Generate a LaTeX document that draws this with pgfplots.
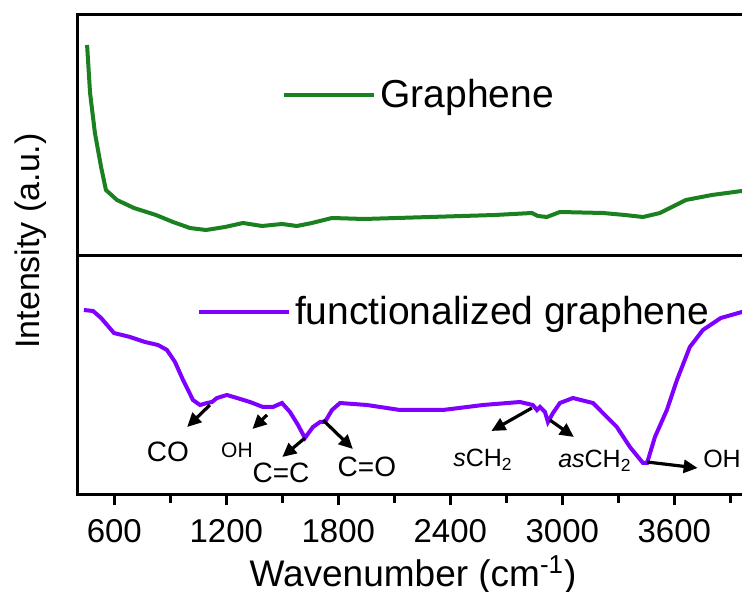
\documentclass[border=0pt]{standalone}
\usepackage{fontspec}
\setmainfont{Liberation Sans}
\usepackage{pgfplots}
\pgfplotsset{compat=1.18}
\usetikzlibrary{arrows.meta}
\definecolor{grgreen}{HTML}{1A8020}
\definecolor{fgpurple}{HTML}{8000FF}

\tikzset{arr/.style={line width=1.6pt, -{Triangle[length=7pt,width=6.5pt]}}}
\pgfplotsset{
  panel/.style={
    width=336pt, scale only axis, xmin=400, xmax=4000, ymin=0,
    axis line style={line width=1.5pt}, ytick=\empty,
    legend style={draw=none, fill=none, anchor=west, inner sep=0pt,
      font=\fontsize{19.5}{21}\selectfont},
    legend image code/.code={\draw[#1] (0pt,0pt) -- (45pt,0pt);},
  },
}

\begin{document}
\begin{tikzpicture}
% top panel: graphene
\begin{axis}[panel, height=120.5pt, at={(0,119.5pt)}, anchor=south west,
  ymax=241, xtick=\empty,
  legend style={at={(0.305,0.668)}}]
\addplot[grgreen, line width=2pt] coordinates {
 (454,211) (470,163) (496,123) (529,89) (555,66) (614,56) (705,48) (823,41)
 (914,34) (1005,28) (1091,26) (1193,29) (1289,33) (1391,30) (1498,32)
 (1578,30) (1659,33) (1766,38) (1937,37) (2291,39) (2639,41) (2837,43)
 (2869,40) (2917,39) (2987,44) (3217,43) (3335,41) (3432,39) (3523,43)
 (3662,56) (3801,61) (3962,65) (4000,66)};
\addlegendentry{Graphene}
\end{axis}

% bottom panel: functionalized graphene
\begin{axis}[panel, height=119.5pt, at={(0,0)}, anchor=south west,
  ymax=239,
  xtick={600,1200,...,3600}, minor xtick={900,1500,...,3900},
  xtick pos=left, tick align=outside,
  major tick length=5pt, minor tick length=4pt,
  every tick/.style={black, line width=1.4pt},
  xticklabel style={font=\fontsize{16.5}{18}\selectfont, yshift=-3.5pt,
    /pgf/number format/assume math mode=true,
    /pgf/number format/1000 sep={}},
  xlabel={Wavenumber (cm\textsuperscript{-1})},
  xlabel style={font=\fontsize{18.5}{20}\selectfont,
    at={(axis description cs:0.5,-0.383)}, anchor=base},
  legend style={at={(0.178,0.766)}}]
\addplot[fgpurple, line width=2pt] coordinates {
 (437,185) (486,184) (529,177) (598,162) (684,158) (764,153) (834,150)
 (882,145) (925,133) (968,115) (995,105) (1021,95) (1059,90) (1096,92)
 (1123,93) (1150,97) (1203,100) (1257,97) (1327,93) (1396,88) (1450,88)
 (1498,92) (1541,83) (1584,70) (1621,57) (1664,68) (1702,73) (1728,73)
 (1766,85) (1809,92) (1953,90) (2130,85) (2360,85) (2575,90) (2773,93)
 (2842,90) (2864,85) (2880,88) (2907,83) (2923,73) (2950,82) (2987,92)
 (3057,97) (3164,92) (3292,68) (3362,48) (3432,32) (3454,32) (3496,58)
 (3560,85) (3614,115) (3683,148) (3753,165) (3849,177) (3962,183) (4000,185)};
\addlegendentry{functionalized graphene}

\draw[arr] (axis cs:1112,90) -- (axis cs:990,68);
\node[anchor=base, font=\fontsize{14}{16}\selectfont] at (axis cs:887,33) {CO};
\draw[arr] (axis cs:1418,80) -- (axis cs:1340,66);
\node[anchor=base, font=\fontsize{10.5}{12}\selectfont] at (axis cs:1257,37) {OH};
\draw[arr] (axis cs:1621,57) -- (axis cs:1500,38);
\node[anchor=base, font=\fontsize{14}{16}\selectfont] at (axis cs:1493,12) {C=C};
\draw[arr] (axis cs:1718,75) -- (axis cs:1878,46);
\node[anchor=base, font=\fontsize{14}{16}\selectfont] at (axis cs:1953,18) {C=O};
\draw[arr] (axis cs:2837,87) -- (axis cs:2620,64);
\node[anchor=base west, inner sep=0pt, font=\fontsize{12.5}{14}\selectfont] at (axis cs:2414,28) {\textit{s}CH\textsubscript{2}};
\draw[arr] (axis cs:2933,75) -- (axis cs:3062,58);
\node[anchor=base west, inner sep=0pt, font=\fontsize{12.5}{14}\selectfont] at (axis cs:2976,27) {\textit{as}CH\textsubscript{2}};
\draw[arr] (axis cs:3453,33) -- (axis cs:3725,27);
\node[anchor=base west, inner sep=0pt, font=\fontsize{12.5}{14}\selectfont] at (axis cs:3753,27) {OH};
\end{axis}

\node[rotate=90, anchor=base, font=\fontsize{17}{19}\selectfont] at (-19pt,127pt) {Intensity (a.u.)};

\pgfresetboundingbox
\useasboundingbox (-38.5pt,-48.5pt) rectangle (332.5pt,247.5pt);
\end{tikzpicture}
\end{document}
